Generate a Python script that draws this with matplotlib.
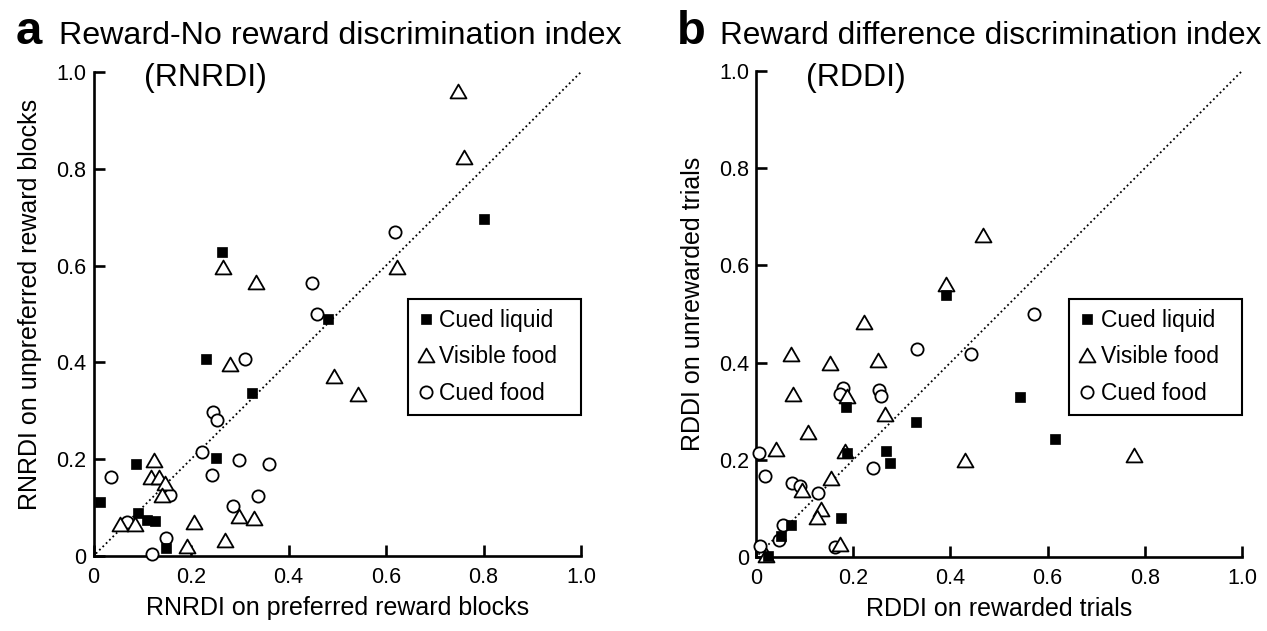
import numpy as np
import matplotlib
matplotlib.use("Agg")
import matplotlib.pyplot as plt
from matplotlib.path import Path

plt.rcParams['font.family'] = ['Liberation Sans', 'DejaVu Sans']

# ---------------- data (panel a: RNRDI) ----------------
a_liquid_x = [0.325, 0.251, 0.087, 0.013, 0.092, 0.110, 0.126, 0.149, 0.264, 0.801, 0.482, 0.231]
a_liquid_y = [0.336, 0.203, 0.191, 0.112, 0.088, 0.074, 0.072, 0.016, 0.629, 0.696, 0.489, 0.407]

a_visible_x = [0.125, 0.117, 0.134, 0.147, 0.140, 0.054, 0.085, 0.207, 0.191, 0.270,
               0.298, 0.330, 0.542, 0.493, 0.748, 0.761, 0.622, 0.266, 0.333, 0.280]
a_visible_y = [0.198, 0.164, 0.164, 0.150, 0.126, 0.066, 0.066, 0.071, 0.021, 0.034,
               0.083, 0.078, 0.335, 0.372, 0.961, 0.824, 0.598, 0.597, 0.567, 0.397]

a_food_x = [0.246, 0.253, 0.222, 0.298, 0.359, 0.243, 0.036, 0.157, 0.338, 0.286,
            0.068, 0.149, 0.119, 0.618, 0.449, 0.458, 0.311]
a_food_y = [0.298, 0.280, 0.214, 0.198, 0.190, 0.167, 0.164, 0.126, 0.125, 0.104,
            0.071, 0.038, 0.004, 0.670, 0.565, 0.501, 0.408]

# ---------------- data (panel b: RDDI) ----------------
b_liquid_x = [0.391, 0.543, 0.329, 0.615, 0.268, 0.276, 0.185, 0.188, 0.174, 0.071, 0.051, 0.025]
b_liquid_y = [0.539, 0.330, 0.278, 0.243, 0.219, 0.194, 0.308, 0.213, 0.080, 0.066, 0.043, 0.003]

b_visible_x = [0.468, 0.390, 0.222, 0.073, 0.152, 0.252, 0.077, 0.188, 0.265, 0.108,
               0.041, 0.184, 0.154, 0.094, 0.133, 0.125, 0.173, 0.020, 0.431, 0.778]
b_visible_y = [0.663, 0.561, 0.484, 0.418, 0.399, 0.406, 0.335, 0.332, 0.294, 0.257,
               0.222, 0.218, 0.162, 0.138, 0.098, 0.083, 0.026, 0.005, 0.200, 0.209]

b_food_x = [0.573, 0.332, 0.442, 0.180, 0.173, 0.254, 0.258, 0.240, 0.007, 0.019,
            0.075, 0.091, 0.127, 0.056, 0.048, 0.008, 0.163]
b_food_y = [0.499, 0.427, 0.417, 0.347, 0.335, 0.344, 0.331, 0.183, 0.213, 0.167,
            0.152, 0.147, 0.132, 0.066, 0.035, 0.023, 0.021]

ticks = [0, 0.2, 0.4, 0.6, 0.8, 1.0]
tick_labels = ["0", "0.2", "0.4", "0.6", "0.8", "1.0"]
legend_labels = ["Cued liquid", "Visible food", "Cued food"]

# ---------------- figure ----------------
W, H = 1267, 631
fig = plt.figure(figsize=(W / 100, H / 100), dpi=100)

tri = Path([(-1, -0.866), (1, -0.866), (0, 0.866), (-1, -0.866)],
           [Path.MOVETO, Path.LINETO, Path.LINETO, Path.CLOSEPOLY])


def px_axes(x0, y0, x1, y1):
    return fig.add_axes([x0 / W, 1 - y1 / H, (x1 - x0) / W, (y1 - y0) / H])


def draw_panel(ax, lx, ly, vx, vy, fx, fy, xlabel, ylabel, ylabel_x):
    ax.plot([0.005, 1.0], [0.005, 1.0], color='black', lw=1.3,
            linestyle=(0, (1, 1.6)), zorder=1)
    ax.plot(fx, fy, linestyle='none', marker='o', ms=8.8, mfc='white',
            mec='black', mew=1.3, clip_on=False, zorder=3, label=legend_labels[2])
    ax.plot(vx, vy, linestyle='none', marker=tri, ms=11.5, mfc='white',
            mec='black', mew=1.3, clip_on=False, zorder=3, label=legend_labels[1])
    ax.plot(lx, ly, linestyle='none', marker='s', ms=7, mfc='black',
            mec='black', mew=0.5, clip_on=False, zorder=4, label=legend_labels[0])
    ax.set_xlim(0, 1.0)
    ax.set_ylim(0, 1.0)
    for s in ['top', 'right']:
        ax.spines[s].set_visible(False)
    for s in ['left', 'bottom']:
        ax.spines[s].set_linewidth(1.9)
    ax.set_xticks(ticks)
    ax.set_yticks(ticks)
    ax.set_xticklabels(tick_labels)
    ax.set_yticklabels(tick_labels)
    ax.tick_params(direction='in', length=8, width=1.9, labelsize=15.5, color='black')
    ax.tick_params(axis='x', pad=8)
    ax.tick_params(axis='y', pad=5)
    ax.set_xlabel(xlabel, fontsize=18, labelpad=6)
    ax.set_ylabel(ylabel, fontsize=18)
    ax.yaxis.set_label_coords(ylabel_x, 0.52)
    handles, labels = ax.get_legend_handles_labels()
    order = [2, 1, 0]
    leg = ax.legend([handles[i] for i in order], [labels[i] for i in order],
                    loc='upper left', bbox_to_anchor=(0.645, 0.297, 0.355, 0.234),
                    mode='expand', borderaxespad=0, fontsize=16.5, frameon=True,
                    fancybox=False, framealpha=1, edgecolor='black',
                    handlelength=0.7, handletextpad=0.25, borderpad=0.42,
                    labelspacing=0.6, numpoints=1)
    leg.get_frame().set_linewidth(1.5)
    return ax


axa = px_axes(93.5, 72, 581, 556)
draw_panel(axa, a_liquid_x, a_liquid_y, a_visible_x, a_visible_y, a_food_x, a_food_y,
           "RNRDI on preferred reward blocks", "RNRDI on unpreferred reward blocks", -0.105)

axb = px_axes(756, 71, 1242, 557)
draw_panel(axb, b_liquid_x, b_liquid_y, b_visible_x, b_visible_y, b_food_x, b_food_y,
           "RDDI on rewarded trials", "RDDI on unrewarded trials", -0.105)


def ftext(x, y, s, **kw):
    fig.text(x / W, 1 - y / H, s, va='baseline', ha='left', **kw)


ftext(16, 44, "a", fontsize=34, fontweight='bold')
ftext(59, 44, "Reward-No reward discrimination index", fontsize=23.2)
ftext(144, 86, "(RNRDI)", fontsize=23)
ftext(677, 44, "b", fontsize=34, fontweight='bold')
ftext(720, 44, "Reward difference discrimination index", fontsize=22.7)
ftext(806, 86, "(RDDI)", fontsize=23)

fig.savefig("out.png", dpi=100)
